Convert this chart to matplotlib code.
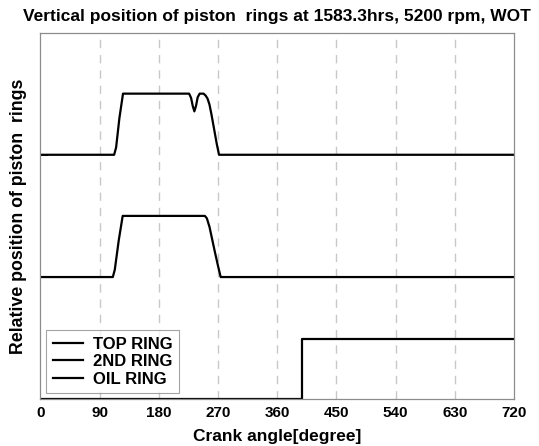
"""Vertical position of piston rings vs crank angle."""

import matplotlib as mpl
import matplotlib.pyplot as plt

mpl.rcParams.update(
    {
        "font.family": ["Liberation Sans", "DejaVu Sans"],
        "font.weight": "bold",
    }
)

# crank angle [deg] and relative lift (0 = seated, 1 = fully lifted)
top_angle = [0, 112, 115, 120, 125.5, 226, 229, 231.5, 234, 236.5, 239, 242, 248, 251,
             254, 257, 260, 264, 268, 271.5, 720]
top_lift = [0, 0, 0.12, 0.6, 1, 1, 0.93, 0.8, 0.71, 0.8, 0.94, 1, 1, 0.97,
            0.92, 0.82, 0.66, 0.42, 0.18, 0, 0]

second_angle = [0, 110, 113, 119, 125, 250, 253, 257, 261, 265, 270, 274, 720]
second_lift = [0, 0, 0.12, 0.6, 1, 1, 0.96, 0.82, 0.62, 0.42, 0.18, 0, 0]

oil_angle = [0, 397, 397, 720]
oil_lift = [0, 0, 0.98, 0.98]

labels = ["TOP RING", "2ND RING", "OIL RING"]
xticks = [0, 90, 180, 270, 360, 450, 540, 630, 720]

# vertical stacking of the three traces
baselines = [2.0, 1.0, 0.0]
lift_scale = 0.5

fig = plt.figure(figsize=(5.39, 4.46), dpi=100)
ax = fig.add_axes([0.0751, 0.1047, 0.8785, 0.8224])

series = [(top_angle, top_lift), (second_angle, second_lift), (oil_angle, oil_lift)]
for (ang, lift), base, lab in zip(series, baselines, labels):
    ax.plot(ang, [base + v * lift_scale for v in lift], color="black", lw=1.6,
            label=lab, solid_joinstyle="round")

for xv in xticks[1:-1]:
    ax.axvline(xv, color="#c8c8c8", lw=1.0, ls=(0, (6, 5)), zorder=0)

ax.set_xlim(0, 720)
ax.set_ylim(0, 3)
ax.set_xticks(xticks)
ax.set_xticklabels([str(v) for v in xticks], fontsize=11, fontweight="bold")
ax.tick_params(axis="x", length=0, pad=5)
ax.set_yticks([1, 2])
ax.set_yticklabels([])
ax.tick_params(axis="y", direction="in", length=6, width=1.2, color="black")
for sp in ax.spines.values():
    sp.set_color("#8c8c8c")
    sp.set_linewidth(0.9)

ax.set_xlabel("Crank angle[degree]", fontsize=12.5, fontweight="bold", labelpad=6)
ax.set_ylabel("Relative position of piston  rings", fontsize=12.8, fontweight="bold",
              labelpad=6)
ax.set_title("Vertical position of piston  rings at 1583.3hrs, 5200 rpm, WOT",
             fontsize=12.5, fontweight="bold", pad=8)

leg = ax.legend(loc="lower left", fontsize=12, frameon=True, fancybox=False,
                handlelength=1.8, handletextpad=0.6, borderaxespad=0.35,
                labelspacing=0.15, borderpad=0.4)
leg.get_frame().set_edgecolor("#8c8c8c")
leg.get_frame().set_linewidth(0.8)

fig.savefig("out.png", dpi=100)
